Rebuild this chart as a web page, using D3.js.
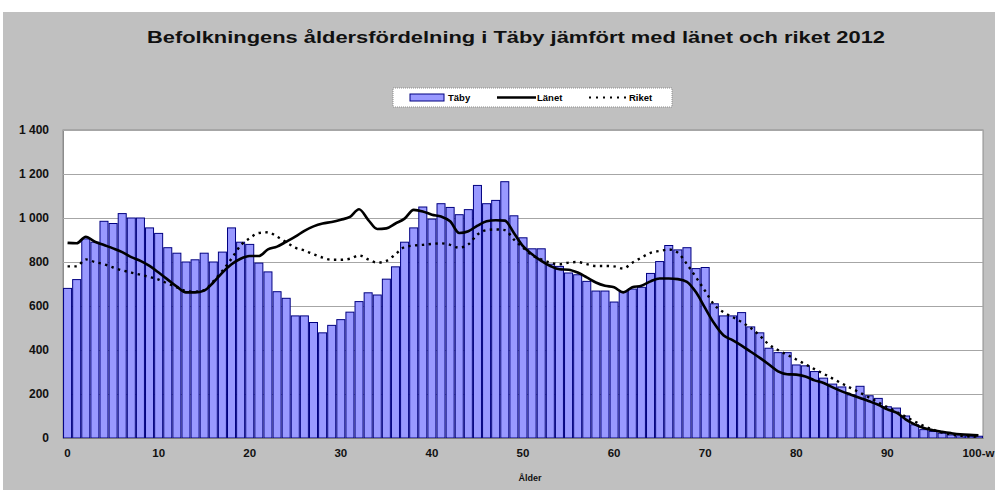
<!DOCTYPE html>
<html>
<head>
<meta charset="utf-8">
<title>Befolkningens åldersfördelning i Täby</title>
<script src="https://d3js.org/d3.v7.min.js"></script>
<style>
  body { margin: 0; background: #fff; }
  svg text { font-family: Arial, "Liberation Sans", sans-serif; font-weight: bold; }
</style>
</head>
<body>
<div id="chart"></div>
<script>
// ---- data ----
const ages = ["0","1","2","3","4","5","6","7","8","9",
  "10","11","12","13","14","15","16","17","18","19",
  "20","21","22","23","24","25","26","27","28","29",
  "30","31","32","33","34","35","36","37","38","39",
  "40","41","42","43","44","45","46","47","48","49",
  "50","51","52","53","54","55","56","57","58","59",
  "60","61","62","63","64","65","66","67","68","69",
  "70","71","72","73","74","75","76","77","78","79",
  "80","81","82","83","84","85","86","87","88","89",
  "90","91","92","93","94","95","96","97","98","99","100-w"];

const taby = [680,720,905,890,985,975,1020,1000,1000,955,
  930,865,840,800,810,840,800,845,955,890,
  880,795,755,665,635,555,555,525,478,512,
  538,572,620,660,650,722,778,890,955,1050,
  995,1065,1048,1015,1038,1148,1065,1080,1165,1010,
  910,860,860,790,780,750,742,712,668,668,
  618,665,677,685,748,802,875,855,865,770,
  775,610,555,555,570,505,478,408,388,388,
  332,328,302,272,245,232,196,235,192,180,
  142,136,100,60,38,30,22,14,10,8,8];

const lanet = [887,885,915,892,877,862,845,822,805,782,
  752,720,688,662,662,670,707,752,790,815,
  827,827,857,870,892,915,942,962,975,982,
  992,1005,1040,992,950,953,975,997,1037,1030,
  1015,1007,985,932,940,965,985,990,988,932,
  872,835,805,782,767,765,752,730,707,692,
  685,662,685,692,712,725,725,722,710,662,
  590,520,467,445,420,392,364,334,303,290,
  288,280,262,250,230,212,197,182,167,151,
  130,115,85,62,45,35,28,22,17,14,12];

const riket = [780,780,812,800,790,775,762,752,742,732,
  720,702,685,668,665,672,712,760,815,875,
  908,932,935,915,890,865,852,835,820,810,
  810,815,830,812,797,805,835,868,875,878,
  882,885,878,865,880,925,945,948,945,902,
  865,830,812,797,790,797,800,790,782,782,
  780,770,797,820,842,850,857,842,790,730,
  668,605,572,550,527,500,465,425,400,378,
  357,335,313,292,270,248,227,206,184,162,
  140,119,97,75,55,38,25,16,10,7,6];

const xTickLabels = ["0","10","20","30","40","50","60","70","80","90","100-w"];
const yTicks = [0,200,400,600,800,1000,1200,1400];

// ---- layout ----
const width = 995, height = 490;
const plot = {left: 63, right: 983, top: 130, bottom: 438};

const svg = d3.select("#chart").append("svg")
    .attr("width", width)
    .attr("height", height);

// grey chart background
svg.append("rect")
    .attr("x", 3).attr("y", 12)
    .attr("width", width - 3).attr("height", height - 12)
    .attr("fill", "#c0c0c0");

// plot area
svg.append("rect")
    .attr("x", plot.left).attr("y", plot.top)
    .attr("width", plot.right - plot.left).attr("height", plot.bottom - plot.top)
    .attr("fill", "#ffffff")
    .attr("stroke", "#8c8c8c");

// ---- scales ----
const x = d3.scaleBand()
    .domain(ages)
    .range([plot.left, plot.right])
    .paddingInner(0.12)
    .paddingOuter(0.06);

const y = d3.scaleLinear()
    .domain([0, 1400])
    .range([plot.bottom, plot.top]);

const sv = d3.formatLocale({decimal: ",", thousands: " ", grouping: [3], currency: ["", " kr"]});
const fmt = sv.format(",d");

// ---- gridlines + y axis ----
const yAxis = d3.axisLeft(y)
    .tickValues(yTicks)
    .tickFormat(fmt)
    .tickSize(-(plot.right - plot.left))
    .tickPadding(14);

const gy = svg.append("g")
    .attr("transform", "translate(" + plot.left + ",0)")
    .call(yAxis);
gy.select(".domain").attr("stroke", "#8c8c8c");
gy.selectAll(".tick line").attr("stroke", "#a6a6a6").attr("stroke-width", 1.2);
gy.selectAll(".tick text")
    .attr("font-size", 12)
    .attr("fill", "#111");

// ---- bars ----
const cx = d => x(d) + x.bandwidth() / 2;

svg.append("g")
    .selectAll("rect")
    .data(ages.map((a, i) => ({age: a, v: taby[i]})))
    .join("rect")
    .attr("x", d => x(d.age))
    .attr("y", d => y(d.v))
    .attr("width", x.bandwidth())
    .attr("height", d => y(0) - y(d.v))
    .attr("fill", "#9999ff")
    .attr("stroke", "#000080")
    .attr("stroke-width", 1);

// ---- lines ----
const line = d3.line()
    .x(d => cx(d.age))
    .y(d => y(d.v))
    .curve(d3.curveMonotoneX);

svg.append("path")
    .datum(ages.map((a, i) => ({age: a, v: riket[i]})))
    .attr("fill", "none")
    .attr("stroke", "#000")
    .attr("stroke-width", 2.4)
    .attr("stroke-dasharray", "2.4,4.4")
    .attr("d", line);

svg.append("path")
    .datum(ages.map((a, i) => ({age: a, v: lanet[i]})))
    .attr("fill", "none")
    .attr("stroke", "#000")
    .attr("stroke-width", 2.6)
    .attr("d", line);

// ---- x axis ----
const xAxis = d3.axisBottom(x)
    .tickValues(ages.filter((a, i) => i % 10 === 0))
    .tickFormat((a, i) => xTickLabels[i])
    .tickSize(0)
    .tickPadding(11);

const gx = svg.append("g")
    .attr("transform", "translate(0," + plot.bottom + ")")
    .call(xAxis);
gx.select(".domain").attr("stroke", "#7a7a7a");
gx.selectAll(".tick text")
    .attr("font-size", 11.5)
    .attr("fill", "#111");

svg.append("text")
    .attr("x", 530).attr("y", 481)
    .attr("text-anchor", "middle")
    .attr("font-size", 9)
    .attr("fill", "#111")
    .text("Ålder");

// ---- title ----
svg.append("text")
    .attr("x", 516).attr("y", 43)
    .attr("text-anchor", "middle")
    .attr("font-size", 17)
    .attr("textLength", 738)
    .attr("lengthAdjust", "spacingAndGlyphs")
    .attr("fill", "#111")
    .text("Befolkningens åldersfördelning i Täby jämfört med länet och riket 2012");

// ---- legend ----
const lg = svg.append("g").attr("transform", "translate(393,88)");
lg.append("rect")
    .attr("width", 279).attr("height", 19)
    .attr("fill", "#fff")
    .attr("stroke", "#8c8c8c")
    .attr("stroke-dasharray", "1,1");
lg.append("rect")
    .attr("x", 17).attr("y", 6).attr("width", 34).attr("height", 7)
    .attr("fill", "#9999ff").attr("stroke", "#000080");
lg.append("text").attr("x", 55).attr("y", 13).attr("font-size", 9.5).text("Täby");
lg.append("line")
    .attr("x1", 104).attr("x2", 143).attr("y1", 9.5).attr("y2", 9.5)
    .attr("stroke", "#000").attr("stroke-width", 2.6);
lg.append("text").attr("x", 144).attr("y", 13).attr("font-size", 9.5).text("Länet");
lg.append("line")
    .attr("x1", 196).attr("x2", 234).attr("y1", 9.5).attr("y2", 9.5)
    .attr("stroke", "#000").attr("stroke-width", 2.2)
    .attr("stroke-dasharray", "2,5");
lg.append("text").attr("x", 236).attr("y", 13).attr("font-size", 9.5).text("Riket");
</script>
</body>
</html>
